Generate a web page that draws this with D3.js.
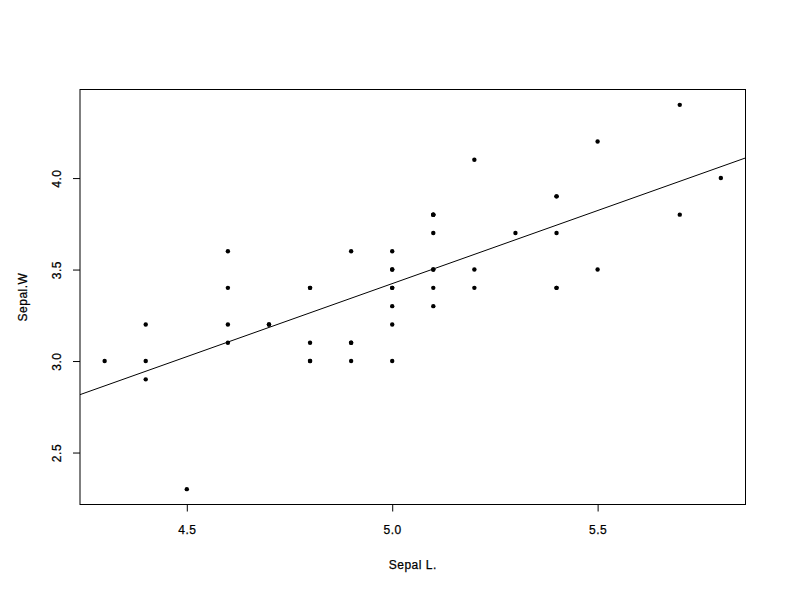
<!DOCTYPE html>
<html><head><meta charset="utf-8">
<script src="https://cdn.jsdelivr.net/npm/d3@7"></script>
<style>body{margin:0;background:#fff}svg{display:block}text{font-family:"Liberation Sans",Arial,Helvetica,sans-serif;font-size:12px;fill:#000;stroke:#000;stroke-width:0.25px;letter-spacing:0.5px}</style>
</head><body>
<script>
const sepalLength = [5.1,4.9,4.7,4.6,5.0,5.4,4.6,5.0,4.4,4.9,5.4,4.8,4.8,4.3,5.8,5.7,5.4,5.1,5.7,5.1,5.4,5.1,4.6,5.1,4.8,5.0,5.0,5.2,5.2,4.7,4.8,5.4,5.2,5.5,4.9,5.0,5.5,4.9,4.4,5.1,5.0,4.5,4.4,5.0,5.1,4.8,5.1,4.6,5.3,5.0];
const sepalWidth  = [3.5,3.0,3.2,3.1,3.6,3.9,3.4,3.4,2.9,3.1,3.7,3.4,3.0,3.0,4.0,4.4,3.9,3.5,3.8,3.8,3.4,3.7,3.6,3.3,3.4,3.0,3.4,3.5,3.4,3.2,3.1,3.4,4.1,4.2,3.1,3.2,3.5,3.6,3.0,3.4,3.5,2.3,3.2,3.5,3.8,3.0,3.8,3.2,3.7,3.3];
const xTicks = [4.5,5.0,5.5];
const yTicks = [2.5,3.0,3.5,4.0];
const xLabel = "Sepal L.";
const yLabel = "Sepal.W";

const W=792,H=612, L=80, R=745.5, T=89.5, B=504.5;
const svg=d3.select("body").append("svg").attr("width",W).attr("height",H);

function padded(arr){const e=d3.extent(arr),d=(e[1]-e[0])*0.04;return [e[0]-d,e[1]+d];}
const x=d3.scaleLinear().domain(padded(sepalLength)).range([L,R]);
const y=d3.scaleLinear().domain(padded(sepalWidth)).range([B,T]);

// least squares fit
const mx=d3.mean(sepalLength), my=d3.mean(sepalWidth);
let sxy=0,sxx=0;
sepalLength.forEach((v,i)=>{sxy+=(v-mx)*(sepalWidth[i]-my);sxx+=(v-mx)*(v-mx);});
const slope=sxy/sxx, icpt=my-slope*mx;

svg.append("defs").append("clipPath").attr("id","clip").append("rect")
  .attr("x",L).attr("y",T).attr("width",R-L).attr("height",B-T);

svg.append("rect").attr("x",L).attr("y",T).attr("width",R-L).attr("height",B-T)
  .attr("fill","none").attr("stroke","#000").attr("stroke-width",1);

const xa=svg.append("g").attr("transform",`translate(0,${B})`)
  .call(d3.axisBottom(x).tickValues(xTicks).tickFormat(d3.format(".1f")).tickSize(7).tickPadding(14));
xa.select(".domain").remove();
xa.selectAll("text").style("font-size","12px");
const ya=svg.append("g").attr("transform",`translate(${L},0)`)
  .call(d3.axisLeft(y).tickValues(yTicks).tickFormat(d3.format(".1f")).tickSize(7).tickPadding(0));
ya.select(".domain").remove();
ya.selectAll(".tick text").attr("x",null).attr("dy",null)
  .attr("transform","translate(-19,0) rotate(-90)").attr("text-anchor","middle").style("font-size","12px");
svg.selectAll(".tick line").attr("stroke","#000");

svg.append("g").selectAll("circle").data(sepalLength).join("circle")
  .attr("cx",d=>x(d)).attr("cy",(d,i)=>y(sepalWidth[i])).attr("r",2.2).attr("fill","#000");

const xd=x.domain();
svg.append("line").attr("clip-path","url(#clip)")
  .attr("x1",x(xd[0])).attr("y1",y(icpt+slope*xd[0]))
  .attr("x2",x(xd[1])).attr("y2",y(icpt+slope*xd[1]))
  .attr("stroke","#000").attr("stroke-width",1);

svg.append("text").attr("x",(L+R)/2).attr("y",569).attr("text-anchor","middle").text(xLabel);
svg.append("text").attr("transform",`translate(27,${(T+B)/2}) rotate(-90)`).attr("text-anchor","middle").text(yLabel);
</script>
</body></html>
